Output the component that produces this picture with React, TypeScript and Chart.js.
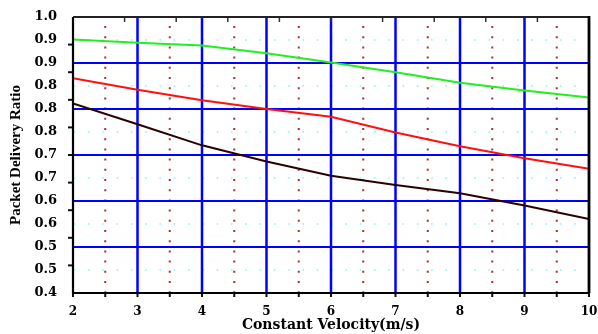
import React, { useEffect, useRef } from 'react';
import { Chart, registerables } from 'chart.js';

Chart.register(...registerables);

const velocities = [2, 3, 4, 5, 6, 7, 8, 9, 10];
const seriesGreen = [0.951, 0.944, 0.938, 0.921, 0.901, 0.88, 0.857, 0.84, 0.825];
const seriesRed = [0.867, 0.842, 0.819, 0.8, 0.783, 0.749, 0.719, 0.693, 0.67];
const seriesBlack = [0.812, 0.767, 0.721, 0.686, 0.655, 0.635, 0.617, 0.59, 0.561];

const yTickValues = [0.4, 0.45, 0.5, 0.55, 0.6, 0.65, 0.7, 0.75, 0.8, 0.85, 0.9, 0.95, 1.0];
const yTickLabels = ['0.4', '0.5', '0.5', '0.6', '0.6', '0.7', '0.7', '0.8', '0.8', '0.8', '0.9', '0.9', '1.0'];
const xTickValues = [2, 3, 4, 5, 6, 7, 8, 9, 10];

const blueHLines = [0.5, 0.6, 0.7, 0.8, 0.9];
const cyanHLines = [0.45, 0.55, 0.65, 0.75, 0.85, 0.95];
const blueVLines = [3, 4, 5, 6, 7, 8, 9];
const redVLines = [2.5, 3.5, 4.5, 5.5, 6.5, 7.5, 8.5, 9.5];
const leftMarks = [0.46, 0.52, 0.58, 0.64, 0.7, 0.76, 0.82, 0.88, 0.94];
const topMarks = [2.8, 3.6, 4.4, 5.2, 6.0, 6.8, 7.6, 8.4, 9.2];
const bottomMarks = [2, 2.5, 3, 3.5, 4, 4.5, 5, 5.5, 6, 6.5, 7, 7.5, 8, 8.5, 9, 9.5, 10];

const gridPlugin = {
  id: 'customGrid',
  beforeDatasetsDraw(chart: any) {
    const { ctx, chartArea: a, scales } = chart;
    const xs = scales.x;
    const ys = scales.y;
    ctx.save();
    ctx.strokeStyle = '#7ff5f5';
    ctx.lineWidth = 1.5;
    ctx.setLineDash([1.5, 12.8]);
    cyanHLines.forEach((v) => {
      const y = ys.getPixelForValue(v);
      ctx.beginPath();
      ctx.moveTo(a.left + 0.7, y);
      ctx.lineTo(a.right, y);
      ctx.stroke();
    });
    ctx.strokeStyle = '#a23434';
    ctx.lineWidth = 2;
    ctx.setLineDash([2, 8.2]);
    redVLines.forEach((v) => {
      const x = xs.getPixelForValue(v);
      ctx.beginPath();
      ctx.moveTo(x, a.top + 9);
      ctx.lineTo(x, a.bottom);
      ctx.stroke();
    });
    ctx.setLineDash([]);
    ctx.strokeStyle = '#0000ff';
    ctx.lineWidth = 2.2;
    blueHLines.forEach((v) => {
      const y = ys.getPixelForValue(v);
      ctx.beginPath();
      ctx.moveTo(a.left, y);
      ctx.lineTo(a.right, y);
      ctx.stroke();
    });
    ctx.lineWidth = 2.5;
    blueVLines.forEach((v) => {
      const x = xs.getPixelForValue(v);
      ctx.beginPath();
      ctx.moveTo(x, a.top);
      ctx.lineTo(x, a.bottom);
      ctx.stroke();
    });
    ctx.restore();
  },
  afterDatasetsDraw(chart: any) {
    const { ctx, chartArea: a, scales } = chart;
    const xs = scales.x;
    const ys = scales.y;
    ctx.save();
    ctx.strokeStyle = '#111';
    ctx.lineWidth = 2;
    leftMarks.forEach((v) => {
      const y = ys.getPixelForValue(v);
      ctx.beginPath();
      ctx.moveTo(a.left - 5, y);
      ctx.lineTo(a.left, y);
      ctx.stroke();
    });
    bottomMarks.forEach((v) => {
      const x = xs.getPixelForValue(v);
      ctx.beginPath();
      ctx.moveTo(x, a.bottom);
      ctx.lineTo(x, a.bottom + 4);
      ctx.stroke();
    });
    ctx.lineWidth = 1.5;
    ctx.strokeStyle = '#333';
    topMarks.forEach((v) => {
      const x = xs.getPixelForValue(v);
      ctx.beginPath();
      ctx.moveTo(x, a.top);
      ctx.lineTo(x, a.top + 5);
      ctx.stroke();
    });
    ctx.strokeStyle = '#222';
    ctx.lineWidth = 1.8;
    ctx.beginPath();
    ctx.moveTo(a.left, a.top);
    ctx.lineTo(a.right, a.top);
    ctx.stroke();
    ctx.strokeStyle = '#000';
    ctx.lineWidth = 2.2;
    ctx.beginPath();
    ctx.moveTo(a.left, a.top);
    ctx.lineTo(a.left, a.bottom);
    ctx.lineTo(a.right, a.bottom);
    ctx.stroke();
    ctx.lineWidth = 2.8;
    ctx.beginPath();
    ctx.moveTo(a.right, a.top - 1);
    ctx.lineTo(a.right, a.bottom);
    ctx.stroke();
    ctx.restore();
  },
};

const toPoints = (ys: number[]) => velocities.map((x, i) => ({ x, y: ys[i] }));

const tickFont = '"DejaVu Serif", serif';

export default function App() {
  const canvasRef = useRef<HTMLCanvasElement | null>(null);

  useEffect(() => {
    const canvas = canvasRef.current;
    if (!canvas) return;
    const chart = new Chart(canvas, {
      type: 'line',
      data: {
        datasets: [
          { data: toPoints(seriesGreen), borderColor: '#22ee22', borderWidth: 2, pointRadius: 0, tension: 0, fill: false },
          { data: toPoints(seriesRed), borderColor: '#ff1010', borderWidth: 2, pointRadius: 0, tension: 0, fill: false },
          { data: toPoints(seriesBlack), borderColor: '#2a0000', borderWidth: 2, pointRadius: 0, tension: 0, fill: false },
        ],
      },
      options: {
        animation: false,
        responsive: false,
        layout: { padding: { left: 0, right: 9, top: 17, bottom: 0 } },
        plugins: { legend: { display: false }, tooltip: { enabled: false } },
        scales: {
          x: {
            type: 'linear',
            min: 2,
            max: 10,
            afterBuildTicks: (s: any) => {
              s.ticks = xTickValues.map((v) => ({ value: v }));
            },
            afterFit: (s: any) => {
              s.height = 41;
              s.paddingLeft = 0;
              s.paddingRight = 0;
            },
            grid: { display: false, drawTicks: false },
            border: { display: false },
            ticks: {
              autoSkip: false,
              maxRotation: 0,
              padding: 12,
              color: '#000',
              font: { family: tickFont, size: 12, weight: 'bold' },
            },
            title: {
              display: true,
              text: 'Constant Velocity(m/s)',
              color: '#000',
              padding: { top: 0, bottom: 0 },
              font: { family: tickFont, size: 14, weight: 'bold' },
            },
          },
          y: {
            type: 'linear',
            min: 0.4,
            max: 1.0,
            afterBuildTicks: (s: any) => {
              s.ticks = yTickValues.map((v) => ({ value: v }));
            },
            afterFit: (s: any) => {
              s.width = 73;
              s.paddingTop = 0;
              s.paddingBottom = 0;
            },
            grid: { display: false, drawTicks: false },
            border: { display: false },
            ticks: {
              autoSkip: false,
              padding: 16,
              color: '#000',
              callback: (_v: any, i: number) => yTickLabels[i],
              font: { family: tickFont, size: 13, weight: 'bold' },
            },
            title: {
              display: true,
              text: 'Packet Delivery Ratio',
              color: '#000',
              padding: { top: 7, bottom: 0 },
              font: { family: '"Liberation Serif", serif', size: 15, weight: 'bold' },
            },
          },
        },
      },
      plugins: [gridPlugin],
    });
    return () => chart.destroy();
  }, []);

  return (
    <div style={{ position: 'absolute', left: 0, top: 0, width: 598, height: 334, background: '#fff' }}>
      <canvas ref={canvasRef} width={598} height={334} style={{ display: 'block', width: 598, height: 334 }} />
    </div>
  );
}
